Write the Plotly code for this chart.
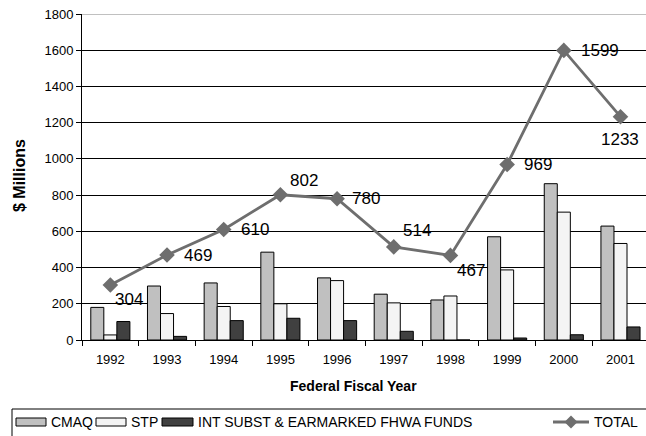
import plotly.graph_objects as go

# Funding by federal fiscal year ($ millions)
years = ["1992", "1993", "1994", "1995", "1996", "1997", "1998", "1999", "2000", "2001"]
cmaq = [180, 298, 315, 485, 343, 253, 221, 570, 863, 629]
stp = [28, 146, 185, 200, 328, 205, 243, 387, 706, 533]
int_subst = [102, 20, 107, 120, 107, 48, 0, 11, 29, 72]
total = [304, 469, 610, 802, 780, 514, 467, 969, 1599, 1233]

y_ticks = [0, 200, 400, 600, 800, 1000, 1200, 1400, 1600, 1800]

W, H = 646, 436
L, R, T, B = 82, 0, 14, 96
FONT = "Liberation Sans, Arial, sans-serif"
GRAY_LINE = "#6e6e6e"


def px(x):
    return (x - L) / (W - L - R)


def py(y):
    return (H - B - y) / (H - T - B)


fig = go.Figure()
bar_line = dict(color="#000000", width=1)
fig.add_trace(go.Bar(x=years, y=cmaq, name="CMAQ", marker=dict(color="#c0c0c0", line=bar_line)))
fig.add_trace(go.Bar(x=years, y=stp, name="STP", marker=dict(color="#f4f4f4", line=bar_line)))
fig.add_trace(go.Bar(x=years, y=int_subst, name="INT SUBST & EARMARKED FHWA FUNDS",
                     marker=dict(color="#404040", line=bar_line)))
fig.add_trace(go.Scatter(
    x=years, y=total, name="TOTAL", mode="lines+markers",
    line=dict(color=GRAY_LINE, width=2.8),
    marker=dict(symbol="diamond", size=12, color=GRAY_LINE),
    cliponaxis=False,
))

annotations = []
# value labels for the TOTAL line: (anchor, x offset px, y offset px, up positive)
label_place = [("left", 3, -15), ("left", 15, 0), ("left", 15, 0), ("left", 8, 14),
               ("left", 13, 0), ("left", 7, 16), ("left", 5, -15), ("left", 15, 0),
               ("left", 15, 0), ("center", 0, -23)]
for i, (v, (anc, dx, dy)) in enumerate(zip(total, label_place)):
    # category axis: annotation x is the category index
    annotations.append(dict(x=i, y=v, xref="x", yref="y", text=str(v), showarrow=False,
                            xanchor=anc, yanchor="middle", xshift=dx, yshift=dy,
                            font=dict(family=FONT, size=17, color="#000000")))

shapes = []
# light top border of plot area
shapes.append(dict(type="line", xref="paper", yref="y", x0=0, x1=1.02, y0=1800, y1=1800,
                   line=dict(color="#c0c0c0", width=2), layer="above"))

# legend box and entries
LEG_FONT = dict(family=FONT, size=14, color="#000000")
shapes.append(dict(type="rect", xref="paper", yref="paper",
                   x0=px(12), x1=px(660), y0=py(409), y1=py(445),
                   line=dict(color="#000000", width=1), fillcolor="rgba(0,0,0,0)"))
swatches = [(16, 46, "#c0c0c0", "CMAQ", 49),
            (96, 126, "#f4f4f4", "STP", 129),
            (162, 193, "#404040", "INT SUBST & EARMARKED FHWA FUNDS", 196)]
for x0, x1, col, txt, tx in swatches:
    shapes.append(dict(type="rect", xref="paper", yref="paper",
                       x0=px(x0), x1=px(x1), y0=py(426), y1=py(418),
                       line=dict(color="#000000", width=1), fillcolor=col))
    annotations.append(dict(xref="paper", yref="paper", x=px(tx), y=py(422), text=txt,
                            showarrow=False, xanchor="left", yanchor="middle", font=LEG_FONT))
shapes.append(dict(type="line", xref="paper", yref="paper", x0=px(553), x1=px(589),
                   y0=py(422), y1=py(422), line=dict(color=GRAY_LINE, width=2.8)))
cx, cy, d = 571, 422, 6.5
shapes.append(dict(type="path", xref="paper", yref="paper",
                   path=f"M{px(cx - d)},{py(cy)} L{px(cx)},{py(cy - d)} L{px(cx + d)},{py(cy)} L{px(cx)},{py(cy + d)} Z",
                   fillcolor=GRAY_LINE, line=dict(color=GRAY_LINE, width=0)))
annotations.append(dict(xref="paper", yref="paper", x=px(592), y=py(422), text="TOTAL",
                        showarrow=False, xanchor="left", yanchor="middle", font=LEG_FONT))

# axis titles
annotations.append(dict(xref="paper", yref="paper", x=px(353), y=py(386), text="<b>Federal Fiscal Year</b>",
                        showarrow=False, xanchor="center", yanchor="middle",
                        font=dict(family=FONT, size=14, color="#000000")))
annotations.append(dict(xref="paper", yref="paper", x=px(19), y=py(176), text="<b>$ Millions</b>",
                        showarrow=False, xanchor="center", yanchor="middle", textangle=-90,
                        font=dict(family=FONT, size=16, color="#000000")))

fig.update_layout(
    width=W, height=H,
    margin=dict(l=L, r=R, t=T, b=B, autoexpand=False),
    paper_bgcolor="#ffffff", plot_bgcolor="#ffffff",
    barmode="group", bargap=0.31, bargroupgap=0,
    showlegend=False,
    font=dict(family=FONT, size=13, color="#000000"),
    shapes=shapes, annotations=annotations,
    xaxis=dict(type="category", range=[-0.5, 9.45], showgrid=False,
               showline=True, linecolor="#000000", linewidth=1,
               ticks="outside", tickson="boundaries", ticklen=5, tickcolor="#000000",
               ticklabelstandoff=7, tickfont=dict(family=FONT, size=13)),
    yaxis=dict(range=[0, 1800], tickvals=y_ticks, showgrid=True, gridcolor="#000000", gridwidth=1,
               showline=True, linecolor="#000000", linewidth=1, zeroline=False,
               ticks="outside", ticklen=5, tickcolor="#000000",
               tickfont=dict(family=FONT, size=13)),
)

fig.write_html("out.html")
